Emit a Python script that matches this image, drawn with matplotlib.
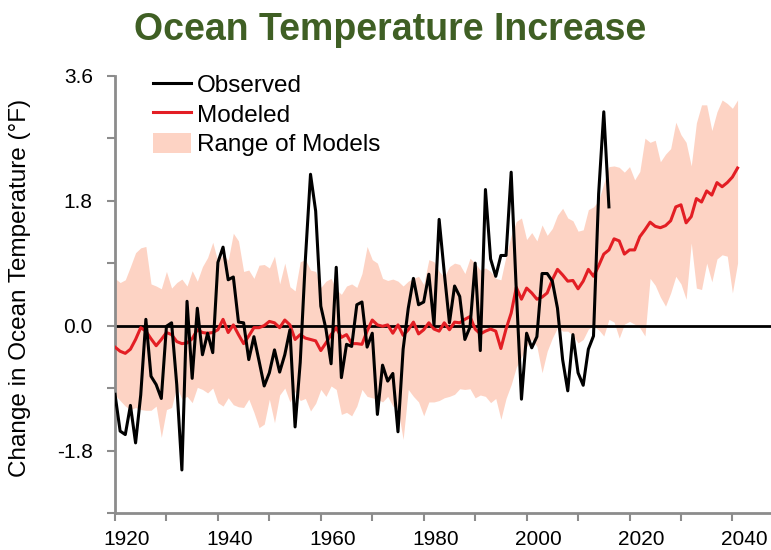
import matplotlib
matplotlib.use("Agg")
import matplotlib.pyplot as plt
import matplotlib.transforms as mtransforms
from matplotlib.patches import Patch
from matplotlib.lines import Line2D
import numpy as np

plt.rcParams['font.family'] = ['Liberation Sans', 'DejaVu Sans']

# years: observed 1920-2016, model 1920-2041
first_year = 1920

observed = [
    -0.99, -1.52, -1.57, -1.15, -1.69, -1.00, 0.09, -0.73, -0.85, -1.05,
    -0.01, 0.04, -0.85, -2.08, 0.35, -0.76, 0.25, -0.42, -0.11, -0.39,
    0.91, 1.13, 0.66, 0.70, 0.05, 0.04, -0.49, -0.16, -0.51, -0.87,
    -0.68, -0.35, -0.67, -0.42, -0.06, -1.46, -0.53, 0.95, 2.18, 1.65,
    0.28, -0.05, -0.55, 0.84, -0.75, -0.27, -0.30, 0.30, 0.34, -0.31,
    -0.11, -1.28, -0.57, -0.80, -0.69, -1.53, -0.34, 0.25, 0.68, 0.30,
    0.34, 0.74, 0.01, 1.53, 0.76, 0.04, 0.57, 0.42, -0.20, -0.02,
    0.90, -0.36, 1.96, 0.96, 0.71, 1.01, 1.01, 2.21, 0.50, -1.06,
    -0.11, -0.32, -0.16, 0.75, 0.75, 0.64, 0.25, -0.49, -0.94, -0.13,
    -0.68, -0.86, -0.34, -0.15, 1.90, 3.08, 1.71,
]

modeled = [
    -0.31, -0.37, -0.40, -0.34, -0.20, -0.03, -0.08, -0.19, -0.29, -0.20,
    -0.10, -0.13, -0.23, -0.26, -0.25, -0.19, -0.06, -0.10, -0.11, -0.10,
    -0.06, 0.09, -0.10, 0.01, -0.13, -0.26, -0.15, -0.03, -0.03, 0.00,
    0.06, 0.04, -0.03, 0.08, 0.01, -0.20, -0.13, -0.18, -0.20, -0.22,
    -0.36, -0.25, -0.13, -0.03, -0.17, -0.13, -0.26, -0.26, -0.27, -0.08,
    0.08, 0.01, -0.01, 0.01, -0.11, 0.01, -0.14, -0.06, 0.05, -0.12,
    -0.06, 0.04, -0.05, -0.08, 0.04, -0.06, 0.05, 0.04, 0.09, 0.13,
    -0.05, -0.12, -0.08, -0.05, -0.08, -0.33, -0.05, 0.18, 0.55, 0.38,
    0.54, 0.47, 0.38, 0.41, 0.47, 0.66, 0.81, 0.73, 0.64, 0.65,
    0.53, 0.64, 0.81, 0.71, 0.86, 1.03, 1.09, 1.25, 1.22, 1.03,
    1.09, 1.09, 1.28, 1.38, 1.49, 1.43, 1.41, 1.44, 1.51, 1.71,
    1.74, 1.48, 1.57, 1.83, 1.78, 1.94, 1.88, 2.06, 2.00, 2.06,
    2.14, 2.27,
]

range_high = [
    0.68, 0.62, 0.66, 0.85, 1.05, 1.12, 1.14, 0.60, 0.57, 0.53,
    0.78, 0.54, 0.62, 0.67, 0.57, 0.79, 0.64, 0.85, 0.98, 1.20,
    0.92, 1.02, 0.94, 1.33, 1.22, 0.78, 0.80, 0.68, 0.87, 0.88,
    0.83, 1.00, 0.60, 0.90, 0.56, 0.50, 0.92, 0.95, 0.80, 0.78,
    0.55, 0.64, 0.68, 0.52, 0.45, 0.57, 0.60, 0.55, 0.75, 1.14,
    0.95, 0.90, 0.68, 0.65, 0.67, 0.64, 0.57, 0.64, 0.68, 0.71,
    0.59, 0.95, 0.92, 0.78, 0.70, 0.85, 0.90, 0.88, 0.75, 0.97,
    0.90, 0.80, 0.83, 0.78, 0.68, 0.66, 1.00, 1.30, 1.50, 1.55,
    1.24, 1.34, 1.22, 1.45, 1.30, 1.40, 1.59, 1.69, 1.55, 1.51,
    1.36, 1.38, 1.67, 1.71, 1.80, 2.05, 2.29, 2.30, 2.28, 2.21,
    2.29, 2.10, 2.22, 2.70, 2.64, 2.67, 2.36, 2.47, 2.55, 2.93,
    2.75, 2.64, 2.30, 2.92, 3.18, 3.18, 2.81, 3.08, 3.25, 3.20,
    3.13, 3.25,
]

range_low = [
    -1.00, -1.08, -1.16, -1.21, -1.18, -1.21, -1.22, -1.22, -1.16, -1.61,
    -1.21, -1.18, -0.88, -1.06, -1.02, -1.11, -0.89, -0.92, -0.97, -0.90,
    -1.11, -1.16, -1.04, -1.14, -1.17, -1.18, -1.06, -1.25, -1.47, -1.42,
    -1.06, -1.40, -1.00, -0.90, -1.10, -0.95, -1.08, -1.05, -1.23, -1.12,
    -0.92, -1.02, -0.87, -0.92, -1.28, -1.25, -1.30, -1.16, -0.92, -1.02,
    -1.04, -1.06, -1.10, -1.02, -1.16, -1.20, -1.64, -0.92, -1.02, -1.10,
    -1.30, -1.10, -1.10, -1.08, -1.04, -1.02, -0.99, -0.91, -0.92, -0.91,
    -1.04, -1.00, -1.02, -1.11, -1.05, -1.35, -1.05, -0.85, -0.60, -0.45,
    -0.30, -0.20, -0.30, -0.68, -0.37, -0.18, -0.03, -0.08, -0.08, -0.14,
    -0.25, -0.20, -0.05, -0.01, -0.06, -0.15, 0.09, 0.05, -0.18, 0.02,
    0.06, 0.02, -0.03, -0.15, 0.68, 0.58, 0.41, 0.28, 0.47, 0.71,
    0.60, 0.38, 1.19, 0.54, 0.52, 0.90, 0.63, 0.96, 1.02, 1.00,
    0.47, 0.90,
]

obs_years = np.arange(first_year, first_year + len(observed))
mod_years = np.arange(first_year, first_year + len(modeled))

y_ticks = [-2.7, -1.8, -0.9, 0.0, 0.9, 1.8, 2.7, 3.6]
y_labels = ["", "-1.8", "", "0.0", "", "1.8", "", "3.6"]
x_ticks = [1920, 1930, 1940, 1950, 1960, 1970, 1980, 1990, 2000, 2010, 2020, 2030, 2040]
x_labels = ["1920", "", "1940", "", "1960", "", "1980", "", "2000", "", "2020", "", "2040"]

fig = plt.figure(figsize=(7.71, 5.5), dpi=100)
ax = fig.add_axes([115 / 771, 1 - 513 / 550, 656 / 771, 437.3 / 550])

band_color = "#fdd3c4"
red = "#e31e24"
grey = "#8c8c8c"

ax.fill_between(mod_years, range_low, range_high, color=band_color, linewidth=0)
ax.axhline(0, color="black", linewidth=2.0, zorder=2)
ax.plot(mod_years, modeled, color=red, linewidth=2.2, zorder=3)
ax.plot(obs_years, observed, color="black", linewidth=2.2, zorder=4)

ax.set_xlim(1920, 2047.5)
ax.set_ylim(-2.7, 3.6)

ax.set_yticks(y_ticks)
ax.set_yticklabels(y_labels)
ax.set_xticks(x_ticks)
ax.set_xticklabels(x_labels)

for s in ["top", "right"]:
    ax.spines[s].set_visible(False)
for s in ["left", "bottom"]:
    ax.spines[s].set_color(grey)
    ax.spines[s].set_linewidth(2)

ax.tick_params(axis="both", direction="out", length=6, width=1.5, color=grey,
               labelsize=15, labelcolor="black")
ax.tick_params(axis="y", pad=10)
ax.tick_params(axis="x", pad=6)

# x labels sit slightly right of their ticks in the original
shift = mtransforms.ScaledTranslation(12 / 100, 0, fig.dpi_scale_trans)
for lbl in ax.get_xticklabels():
    lbl.set_transform(lbl.get_transform() + shift)

ax.set_ylabel("Change in Ocean Temperature (°F)", fontsize=17.5)
ax.yaxis.set_label_coords(-0.128, 0.515)

handles = [
    Line2D([], [], color="black", linewidth=2.2),
    Line2D([], [], color=red, linewidth=2.2),
    Patch(facecolor=band_color, edgecolor="none"),
]
ax.legend(handles, ["Observed", "Modeled", "Range of Models"],
          loc="upper left", bbox_to_anchor=(0.058, 1.005), frameon=False,
          fontsize=17.5, handlelength=1.55, handleheight=0.9, handletextpad=0.25,
          labelspacing=0.25, borderpad=0, borderaxespad=0)

fig.text(0.506, 0.945, "Ocean Temperature Increase", ha="center", va="center",
         fontsize=27, fontweight="bold", color="#3f5f24")

fig.savefig("out.png", dpi=100)
